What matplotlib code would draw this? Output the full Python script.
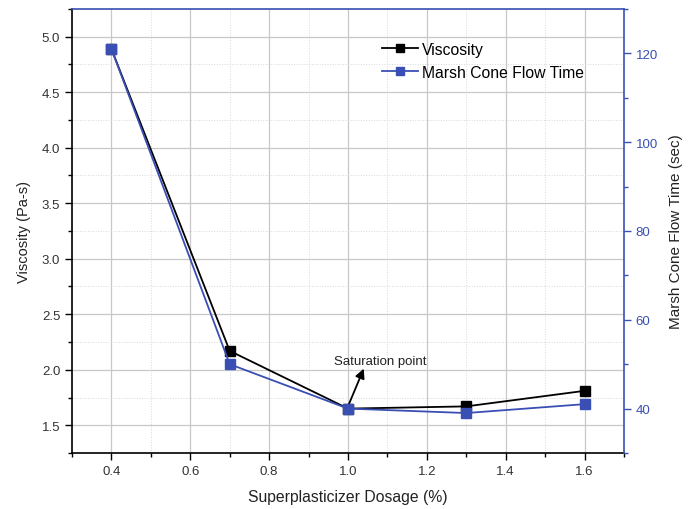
import matplotlib
matplotlib.use("Agg")
import matplotlib.pyplot as plt
from matplotlib.ticker import MultipleLocator

plt.rcParams['font.family'] = ['Liberation Sans', 'DejaVu Sans']

# data
dosage = [0.4, 0.7, 1.0, 1.3, 1.6]
viscosity = [4.89, 2.17, 1.65, 1.67, 1.81]
marsh_time = [121, 50, 40, 39, 41]

BLUE = '#3a4fb4'

fig = plt.figure(figsize=(6.93, 5.10), dpi=100)
ax = fig.add_axes([0.1039, 0.1098, 0.7965, 0.8706])
ax2 = ax.twinx()

ax.plot(dosage, viscosity, color='black', marker='s', markersize=6.5,
        linewidth=1.3, label='Viscosity', zorder=3)
ax2.plot(dosage, marsh_time, color=BLUE, marker='s', markersize=6.5,
         linewidth=1.3, label='Marsh Cone Flow Time', zorder=3)

ax.set_xlim(0.3, 1.7)
ax.set_ylim(1.25, 5.25)
ax2.set_ylim(30, 130)

ax.xaxis.set_major_locator(MultipleLocator(0.2))
ax.xaxis.set_minor_locator(MultipleLocator(0.1))
ax.yaxis.set_major_locator(MultipleLocator(0.5))
ax.yaxis.set_minor_locator(MultipleLocator(0.25))
ax2.yaxis.set_major_locator(MultipleLocator(20))
ax2.yaxis.set_minor_locator(MultipleLocator(10))
ax.xaxis.set_major_formatter(plt.FormatStrFormatter('%.1f'))
ax.yaxis.set_major_formatter(plt.FormatStrFormatter('%.1f'))

ax.grid(True, which='major', color='#c8c8c8', linewidth=0.9)
ax.grid(True, which='minor', color='#d8d8d8', linewidth=0.7, linestyle=':')
ax.set_axisbelow(True)

ax.tick_params(axis='both', which='major', direction='out', length=5,
               width=1, labelsize=9.5, labelcolor='#333333')
ax.tick_params(axis='both', which='minor', direction='out', length=3, width=1)
ax2.tick_params(axis='y', which='major', direction='out', length=5, width=1,
                colors=BLUE, labelsize=9.5)
ax2.tick_params(axis='y', which='minor', direction='out', length=3, width=1,
                colors=BLUE)

for s in ['left', 'bottom']:
    ax.spines[s].set_linewidth(1.2)
ax2.spines['left'].set_visible(False)
ax2.spines['bottom'].set_visible(False)
ax2.spines['right'].set_color(BLUE)
ax2.spines['right'].set_linewidth(1.2)
ax2.spines['top'].set_color(BLUE)
ax2.spines['top'].set_linewidth(1.2)
ax.spines['top'].set_visible(False)
ax.spines['right'].set_visible(False)

ax.set_xlabel('Superplasticizer Dosage (%)', fontsize=11.3, color='#222222', labelpad=9)
ax.set_ylabel('Viscosity (Pa-s)', fontsize=10.5, color='#222222', labelpad=8)
ax2.set_ylabel('Marsh Cone Flow Time (sec)', fontsize=11, color='#222222', labelpad=8)

# saturation point note: arrow from the 1.0 % point up toward the text
ax.annotate('', xy=(1.04, 2.01), xytext=(1.0, 1.67),
            arrowprops=dict(arrowstyle='-|>', color='black', lw=1.3,
                            shrinkA=0, shrinkB=0, mutation_scale=14),
            zorder=5)
ax.text(1.081, 2.08, 'Saturation point', fontsize=9.5, color='#222222',
        ha='center', va='center', zorder=5)

h1, l1 = ax.get_legend_handles_labels()
h2, l2 = ax2.get_legend_handles_labels()
ax2.legend(h1 + h2, l1 + l2, loc='upper left', bbox_to_anchor=(0.55, 0.94),
           frameon=False, fontsize=11.3, handlelength=2.3, handletextpad=0.25,
           labelspacing=0.5, borderaxespad=0, markerscale=0.9)

fig.savefig('out.png', dpi=100)
